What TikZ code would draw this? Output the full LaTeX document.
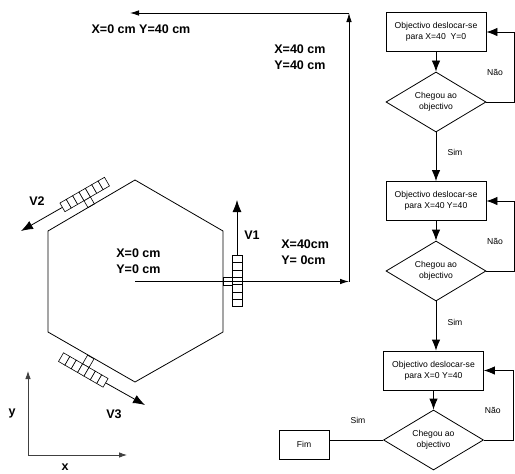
\documentclass[tikz,border=0pt]{standalone}
\usepackage{fontspec}
\setmainfont{Liberation Sans}
\usetikzlibrary{arrows.meta,shapes.geometric}
\tikzset{
  x=1pt,y=-1pt,
  every path/.style={line width=0.8pt},
  lab/.style={font=\fontsize{12.5}{16}\selectfont\bfseries,align=left,inner sep=0pt},
  flowtxt/.style={font=\fontsize{8.6}{10.6}\selectfont,align=center,inner sep=0pt},
  fbox/.style={draw,flowtxt,minimum width=100pt,minimum height=39pt},
  fdec/.style={draw,flowtxt,diamond,aspect=1.667,minimum width=100pt,minimum height=60pt},
  fend/.style={draw,flowtxt,minimum width=50pt,minimum height=29pt},
  small/.style={flowtxt},
  bigtip/.style={-{Latex[length=12pt,width=9pt]}},
  midtip/.style={-{Latex[length=11pt,width=8.5pt]}},
  pathtip/.style={-{Latex[length=9pt,width=5.5pt]}},
  smalltip/.style={-{Latex[length=8pt,width=5.5pt]}},
  cell/.style={line width=0.6pt,fill=white},
}
\newcommand{\wheelcells}{%
  \foreach \k in {-3,...,3}{\draw[cell] ({\k*7.35-3.675},-5) rectangle ({\k*7.35+3.675},5);}%
}
\begin{document}
\begin{tikzpicture}
\useasboundingbox (0,0) rectangle (515,474);
% hexagon
\draw (135,180) -- (223,231) -- (223,332) -- (135,382) -- (48,332) -- (48,231) -- cycle;
% path
\coordinate (c0) at (135,281.5);
\coordinate (c1) at (349,281.5);
\coordinate (c2) at (349,13);
\coordinate (c3) at (130,13);
% V1
\begin{scope}[shift={(237,281)},rotate=90]
  \draw[line width=0.6pt] (-4,-5) rectangle (4,-14);
  \wheelcells
  \coordinate (v1a) at (25.7,0);
\end{scope}
\draw[pathtip] (c0) -- (c1);
\draw[pathtip] (c1) -- (c2);
\draw[pathtip] (c2) -- (c3);
\coordinate (v1b) at (237,200);
\draw[bigtip] (v1a) -- (v1b);
% V2
\begin{scope}[shift={(84.7,194.5)},rotate=30]
  \draw[line width=0.6pt] (-3.7,5) rectangle (3.7,13);
  \wheelcells
  \coordinate (v2a) at (-25.7,0);
\end{scope}
\coordinate (v2b) at (21,231);
\draw[bigtip] (v2a) -- (v2b);
% V3
\begin{scope}[shift={(83.3,370)},rotate=-30]
  \draw[line width=0.6pt] (-3.7,-5) rectangle (3.7,-15);
  \wheelcells
  \coordinate (v3a) at (25.7,0);
\end{scope}
\coordinate (v3b) at (145,405);
\draw[bigtip] (v3a) -- (v3b);
% axes
\coordinate (o) at (28,455);
\coordinate (ay) at (28,371);
\coordinate (ax) at (127,455);
\draw[smalltip,black!75] (o) -- (ay);
\draw[smalltip,black!75] (o) -- (ax);
% bold labels
\node[lab] (t1) at (141,29) {X=0 cm Y=40 cm};
\node[lab,anchor=west] (t2) at (274,57) {X=40 cm\\Y=40 cm};
\node[lab,anchor=west] (t3) at (281,252) {X=40cm\\Y= 0cm};
\node[lab,anchor=west] (t4) at (116,261) {X=0 cm\\Y=0 cm};
\node[lab] (tv1) at (252,235) {V1};
\node[lab] (tv2) at (37,201) {V2};
\node[lab] (tv3) at (114,414) {V3};
\node[lab] (ty) at (12,413) {y};
\node[lab] (tx) at (65,467) {x};
% flowchart
\node[fbox] (b1) at (436,32) {Objectivo deslocar-se\\para X=40\ \ Y=0};
\node[fdec] (d1) at (436,102) {Chegou ao\\objectivo};
\node[fbox] (b2) at (436,201) {Objectivo deslocar-se\\para X=40 Y=40};
\node[fdec] (d2) at (436,271) {Chegou ao\\objectivo};
\node[fbox] (b3) at (433.5,370.5) {Objectivo deslocar-se\\para X=0 Y=40};
\node[fdec] (d3) at (433.5,440) {Chegou ao\\objectivo};
\node[fend] (fim) at (304,444.5) {Fim};
\draw[midtip] (b1) -- (d1);
\draw[midtip] (d1) -- (b2);
\draw[midtip] (b2) -- (d2);
\draw[midtip] (d2.south) -- (d2.south |- b3.north);
\draw[midtip] (b3) -- (d3);
\draw (d3.west) -- (fim.east |- d3.west);
\draw[midtip] (d1.east) -- (514.5,102) -- (514.5,32) -- (b1.east);
\draw[midtip] (d2.east) -- (514.5,271) -- (514.5,201) -- (b2.east);
\draw[midtip] (d3.east) -- (513,440) -- (513,370.5) -- (b3.east);
\node[small] (n1) at (495,72) {Não};
\node[small] (n2) at (495,241) {Não};
\node[small] (n3) at (492.7,410) {Não};
\node[small] (s1) at (455,152) {Sim};
\node[small] (s2) at (455,322) {Sim};
\node[small] (s3) at (358,420) {Sim};
\end{tikzpicture}
\end{document}
